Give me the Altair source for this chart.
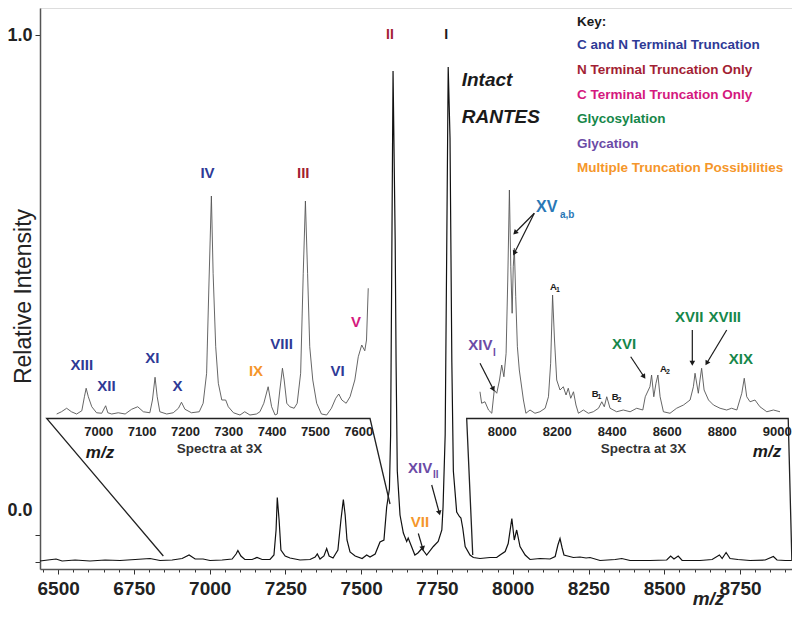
import altair as alt
import pandas as pd

FONT = "Liberation Sans"
BLUE = "#2E3A96"
RED = "#A31F34"
MAGENTA = "#D4197E"
GREEN = "#16874A"
PURPLE = "#6B4BA6"
ORANGE = "#F5962A"
TEAL = "#2A78B6"
INK = "#1a1a1a"

# ---------------- main spectrum ----------------
main_mz = [6440, 6466, 6493, 6513, 6556, 6605, 6655, 6704, 6754, 6803,
           6836, 6876, 6909, 6932, 6952, 6978, 7001, 7041, 7074, 7087,
           7093, 7103, 7116, 7140, 7156, 7173, 7199, 7212, 7219, 7223,
           7229, 7235, 7249, 7265, 7298, 7331, 7348, 7355, 7364, 7377,
           7386, 7394, 7407, 7423, 7433, 7441, 7447, 7453, 7463, 7480,
           7503, 7518, 7529, 7546, 7562, 7575, 7584, 7593, 7597, 7601,
           7605, 7612, 7615, 7619, 7628, 7639, 7650, 7655, 7664, 7677,
           7687, 7700, 7716, 7738, 7754, 7766, 7770, 7777, 7782, 7787,
           7793, 7799, 7804, 7815, 7824, 7829, 7835, 7843, 7859, 7870,
           7892, 7925, 7947, 7958, 7975, 7985, 7997, 8005, 8013, 8024,
           8041, 8057, 8090, 8123, 8140, 8149, 8156, 8163, 8169, 8200,
           8222, 8242, 8255, 8288, 8338, 8360, 8387, 8453, 8508, 8521,
           8532, 8546, 8559, 8618, 8658, 8682, 8691, 8704, 8717, 8743,
           8783, 8833, 8860, 8872, 8899, 8921]
main_int = [-0.052, -0.050, -0.048, -0.052, -0.050, -0.052, -0.050, -0.051, -0.049, -0.047,
            -0.051, -0.050, -0.047, -0.040, -0.048, -0.048, -0.051, -0.050, -0.048, -0.038,
            -0.031, -0.042, -0.049, -0.049, -0.045, -0.049, -0.049, -0.040, 0.010, 0.075,
            0.030, -0.030, -0.042, -0.046, -0.050, -0.049, -0.044, -0.038, -0.048, -0.042,
            -0.027, -0.042, -0.046, -0.030, 0.030, 0.071, 0.040, -0.010, -0.034, -0.042,
            -0.047, -0.040, -0.044, -0.038, -0.014, -0.010, 0.056, 0.092, 0.200, 0.562,
            0.928, 0.592, 0.346, 0.128, 0.040, 0.004, -0.013, -0.006, -0.020, -0.040,
            -0.036, -0.027, -0.040, -0.023, -0.013, 0.010, 0.056, 0.200, 0.562, 0.936,
            0.794, 0.346, 0.128, 0.046, 0.037, 0.034, 0.014, -0.023, -0.040, -0.045,
            -0.047, -0.045, -0.045, -0.040, -0.033, -0.017, 0.033, -0.010, 0.010, -0.023,
            -0.040, -0.049, -0.047, -0.048, -0.043, -0.020, -0.007, -0.026, -0.040, -0.045,
            -0.044, -0.046, -0.045, -0.051, -0.049, -0.047, -0.051, -0.051, -0.050, -0.042,
            -0.048, -0.042, -0.051, -0.051, -0.049, -0.040, -0.047, -0.035, -0.047, -0.049,
            -0.051, -0.050, -0.043, -0.050, -0.051, -0.051]

# ---------------- left inset (3X) ----------------
left_mz = [6904, 6915, 6927, 6938, 6950, 6962, 6968, 6972, 6977, 6985,
           6996, 7008, 7017, 7022, 7031, 7046, 7062, 7077, 7091, 7104,
           7119, 7125, 7131, 7136, 7142, 7158, 7173, 7185, 7192, 7200,
           7215, 7233, 7242, 7250, 7255, 7261, 7265, 7271, 7277, 7285,
           7294, 7300, 7312, 7327, 7338, 7350, 7365, 7373, 7382, 7392,
           7400, 7408, 7413, 7419, 7425, 7429, 7435, 7442, 7452, 7459,
           7467, 7473, 7478, 7483, 7488, 7495, 7504, 7515, 7527, 7538,
           7548, 7555, 7562, 7572, 7581, 7592, 7600, 7608, 7615, 7619, 7623]
left_int = [0.016, 0.025, 0.039, 0.025, 0.016, 0.029, 0.085, 0.119, 0.085, 0.045,
            0.021, 0.019, 0.049, 0.021, 0.016, 0.021, 0.016, 0.035, 0.045, 0.025,
            0.021, 0.072, 0.163, 0.085, 0.025, 0.016, 0.021, 0.039, 0.063, 0.035,
            0.021, 0.025, 0.059, 0.179, 0.512, 0.888, 0.579, 0.285, 0.139, 0.072,
            0.072, 0.045, 0.021, 0.012, 0.025, 0.012, 0.016, 0.025, 0.059, 0.125,
            0.045, 0.012, 0.016, 0.112, 0.199, 0.152, 0.059, 0.045, 0.039, 0.059,
            0.179, 0.579, 0.868, 0.579, 0.285, 0.152, 0.059, 0.016, 0.012, 0.039,
            0.079, 0.096, 0.072, 0.059, 0.085, 0.152, 0.245, 0.292, 0.269, 0.312, 0.519]

# ---------------- right inset (3X) ----------------
right_mz = [7921, 7927, 7939, 7952, 7964, 7973, 7982, 7992, 8000, 8008,
            8016, 8022, 8028, 8033, 8038, 8042, 8046, 8051, 8057, 8064,
            8069, 8079, 8088, 8103, 8121, 8139, 8158, 8170, 8178, 8185,
            8192, 8200, 8212, 8224, 8234, 8242, 8251, 8261, 8270, 8279,
            8297, 8315, 8333, 8352, 8364, 8373, 8382, 8394, 8418, 8442,
            8467, 8491, 8513, 8522, 8539, 8545, 8553, 8561, 8568, 8576,
            8588, 8612, 8636, 8661, 8685, 8697, 8703, 8715, 8721, 8727,
            8736, 8752, 8770, 8794, 8818, 8836, 8855, 8873, 8882, 8891,
            8903, 8921, 8939, 8964, 8988, 9012]
right_int = [0.105, 0.059, 0.065, 0.032, 0.019, 0.112, 0.099, 0.152, 0.212, 0.165,
             0.259, 0.552, 0.912, 0.605, 0.419, 0.605, 0.679, 0.485, 0.285, 0.192,
             0.152, 0.072, 0.019, 0.032, 0.019, 0.025, 0.039, 0.085, 0.219, 0.492,
             0.312, 0.152, 0.112, 0.125, 0.092, 0.119, 0.079, 0.105, 0.052, 0.019,
             0.032, 0.019, 0.025, 0.039, 0.065, 0.045, 0.085, 0.039, 0.025, 0.032,
             0.025, 0.039, 0.032, 0.085, 0.125, 0.172, 0.085, 0.139, 0.172, 0.085,
             0.025, 0.019, 0.039, 0.052, 0.072, 0.125, 0.179, 0.099, 0.152, 0.199,
             0.112, 0.072, 0.052, 0.039, 0.032, 0.039, 0.032, 0.099, 0.159, 0.085,
             0.065, 0.072, 0.045, 0.025, 0.032, 0.025]

# ---------------- connectors (inset boxes) in main coordinates ----------------
conn_mz = [6847, 6462, 7529, 7595, 7868, 7848, 8909, 8921]
conn_val = [-0.042, 0.233, 0.233, 0.062, -0.040, 0.233, 0.233, -0.050]
conn_path = ["L", "L", "L", "L", "R", "R", "R", "R"]

# ---------------- labels ----------------
left_lab_text = ["XIII", "XII", "XI", "X", "IV", "IX", "VIII", "III", "VI", "V"]
left_lab_mz = [6962, 7019, 7125, 7183, 7252, 7364, 7423, 7473, 7552, 7595]
left_lab_val = [0.212, 0.129, 0.239, 0.129, 0.979, 0.189, 0.296, 0.979, 0.189, 0.385]
left_lab_color = [BLUE, BLUE, BLUE, BLUE, BLUE, ORANGE, BLUE, RED, BLUE, MAGENTA]

right_c_text = ["XVI", "XVII", "XVIII", "XIX"]
right_c_mz = [8444.7, 8681.8, 8810.9, 8869.5]
right_c_val = [0.296, 0.403, 0.403, 0.235]

right_l_text = ["XV", "a,b", "XIV", "I", "A", "1", "A", "2", "B", "1", "B", "2"]
right_l_mz = [8124.7, 8212.0, 7878.5, 7968.4, 8175.6, 8197.5, 8575.6, 8597.5, 8327.3, 8348.4, 8400.0, 8421.1]
right_l_val = [0.844, 0.812, 0.292, 0.262, 0.523, 0.512, 0.195, 0.184, 0.095, 0.084, 0.085, 0.074]
right_l_color = [TEAL, TEAL, PURPLE, PURPLE, INK, INK, INK, INK, INK, INK, INK, INK]
right_l_size = [16, 10, 15, 10, 9.5, 7, 9.5, 7, 9.5, 7, 9.5, 7]

right_arrow_mz = [8118.5, 8118.5, 7921.1, 8469.1, 8693.1, 8818.2]
right_arrow_val = [0.819, 0.819, 0.219, 0.245, 0.352, 0.352]
right_arrow_mz2 = [8048.4, 8045.8, 7969.5, 8517.5, 8693.1, 8745.5]
right_arrow_val2 = [0.741, 0.659, 0.115, 0.165, 0.219, 0.219]
right_arrow_ang = [225, 207, 153, 146, 180, 211]

main_c_text = ["II", "I", "VII"]
main_c_mz = [7595, 7780, 7694]
main_c_val = [1.0, 1.0, 0.027]
main_c_color = [RED, INK, ORANGE]
main_c_size = [14, 14, 15]

key_text = ["Key:", "C and N Terminal Truncation", "N Terminal Truncation Only",
            "C Terminal Truncation Only", "Glycosylation", "Glycation",
            "Multiple Truncation Possibilities"]
key_color = [INK, BLUE, RED, MAGENTA, GREEN, PURPLE, ORANGE]
key_val = [1.027, 0.980, 0.930, 0.880, 0.832, 0.782, 0.734]

main_l_text = ["XIV", "II"] + key_text
main_l_mz = [7654.4, 7736.9] + [8212.1] * len(key_text)
main_l_val = [0.134, 0.120] + key_val
main_l_color = [PURPLE, PURPLE] + key_color
main_l_size = [15, 10] + [13.5] * len(key_text)

intact_text = ["Intact", "RANTES"]
intact_mz = [7831.6, 7831.6]
intact_val = [0.910, 0.836]

mz_note_text = ["m/z", "m/z"]
mz_note_mz = [6638, 8839]
mz_note_val = [0.165, 0.167]

main_arrow_mz = [7732.6, 7688.4]
main_arrow_val = [0.100, 0.003]
main_arrow_mz2 = [7757.7, 7702.9]
main_arrow_val2 = [0.044, -0.027]
main_arrow_ang = [165, 168]

# ---------------- scales & axes ----------------
main_xs = alt.Scale(domain=[6440, 8921.5], nice=False, zero=False)
main_ys = alt.Scale(domain=[-0.068, 1.054], nice=False, zero=False)
left_xs = alt.Scale(domain=[6865.5, 8600.9], nice=False, zero=False)
right_xs = alt.Scale(domain=[6321.1, 9055.6], nice=False, zero=False)
inset_ys = alt.Scale(domain=[-0.604, 1.64], nice=False, zero=False)

main_xa = alt.Axis(
    orient="bottom", values=list(range(6450, 8901, 50)), format="d",
    labelExpr="datum.value % 250 === 0 ? datum.label : ''",
    tickSize={"condition": {"test": "datum.value % 250 === 0", "value": 5}, "value": 3},
    tickColor="#333", labelFont=FONT, labelFontSize=19, labelFontWeight="bold",
    labelColor="#222", labelPadding=5, labelOverlap=False, labelFlush=False, grid=False,
    domainColor="#555", domainWidth=1.5,
    title="m/z", titleFont=FONT, titleFontSize=19, titleFontWeight="bold",
    titleFontStyle="italic", titleColor="#222", titleX=668, titleY=29,
    titleBaseline="middle", titleAlign="center",
)
main_ya = alt.Axis(
    values=[-0.054, 0, 1],
    labelExpr="datum.value === 1 ? '1.0' : (datum.value === 0 ? '0.0' : '')",
    labelOffset={"condition": {"test": "datum.value === 0", "value": -25}, "value": 0},
    tickSize=5, tickColor="#333", labelFont=FONT, labelFontSize=18, labelFontWeight="bold",
    labelColor="#222", labelPadding=3, grid=False, domainColor="#555", domainWidth=1.5,
    title="Relative Intensity", titleFont=FONT, titleFontSize=23, titleFontWeight="normal",
    titleColor="#222", titleX=-17, titleY=288, titleAngle=270, titleAlign="center",
    titleBaseline="middle",
)


def inset_axis(vals, title_x):
    return alt.Axis(
        orient="bottom", values=vals, format="d", offset=-151, domain=False, ticks=False,
        tickSize=0, labelFont=FONT, labelFontSize=13, labelFontWeight="bold",
        labelColor="#222", labelPadding=7, labelFlush=False, labelOverlap=False, grid=False,
        title="Spectra at 3X", titleFont=FONT, titleFontSize=13.5, titleFontWeight="bold",
        titleColor="#333", titleX=title_x, titleY=30, titleBaseline="middle", titleAlign="center",
    )


left_xa = inset_axis(list(range(7000, 7601, 100)), 179)
right_xa = inset_axis(list(range(8000, 9001, 200)), 603)


def enc(xf, yf, xs, ys, xa, ya):
    return dict(x=alt.X(xf, scale=xs, axis=xa), y=alt.Y(yf, scale=ys, axis=ya))


def text_layer(texts, xs_, ys_, colors, sizes, xs, ys, xa, ya, align="center", style="normal"):
    df = pd.DataFrame({"mz": xs_, "val": ys_, "label": texts, "color": colors, "fs": sizes})
    return alt.Chart(df).mark_text(
        align=align, baseline="middle", font=FONT, fontWeight="bold", fontStyle=style
    ).encode(
        **enc("mz:Q", "val:Q", xs, ys, xa, ya),
        text="label:N",
        color=alt.Color("color:N", scale=None),
        size=alt.Size("fs:Q", scale=None),
    )


def arrow_layers(mz, val, mz2, val2, ang, xs, ys, xa, ya):
    df = pd.DataFrame({"mz": mz, "val": val, "mz2": mz2, "val2": val2, "ang": ang})
    rules = alt.Chart(df).mark_rule(color=INK, strokeWidth=1.2).encode(
        **enc("mz:Q", "val:Q", xs, ys, xa, ya), x2="mz2:Q", y2="val2:Q"
    )
    heads = alt.Chart(df).mark_point(
        shape="triangle-up", filled=True, size=32, color=INK, opacity=1
    ).encode(**enc("mz2:Q", "val2:Q", xs, ys, xa, ya), angle=alt.Angle("ang:Q", scale=None))
    return [rules, heads]


# ---------------- main layer ----------------
main_spec = alt.Chart(pd.DataFrame({"mz": main_mz, "val": main_int})).mark_line(
    color="#111", strokeWidth=1.2
).encode(**enc("mz:Q", "val:Q", main_xs, main_ys, main_xa, main_ya))

conn = alt.Chart(pd.DataFrame({"mz": conn_mz, "val": conn_val, "path": conn_path,
                               "ord": list(range(len(conn_mz)))})).mark_line(
    color="#222", strokeWidth=1.3
).encode(**enc("mz:Q", "val:Q", main_xs, main_ys, main_xa, main_ya),
         detail="path:N", order="ord:Q")

main_layers = [main_spec, conn]
main_layers += arrow_layers(main_arrow_mz, main_arrow_val, main_arrow_mz2, main_arrow_val2,
                            main_arrow_ang, main_xs, main_ys, main_xa, main_ya)
main_layers.append(text_layer(main_c_text, main_c_mz, main_c_val, main_c_color, main_c_size,
                              main_xs, main_ys, main_xa, main_ya, align="center"))
main_layers.append(text_layer(main_l_text, main_l_mz, main_l_val, main_l_color, main_l_size,
                              main_xs, main_ys, main_xa, main_ya, align="left"))
main_layers.append(text_layer(intact_text, intact_mz, intact_val, [INK, INK], [19, 19],
                              main_xs, main_ys, main_xa, main_ya, align="left", style="italic"))
main_layers.append(text_layer(mz_note_text, mz_note_mz, mz_note_val, [INK, INK], [17, 17],
                              main_xs, main_ys, main_xa, main_ya, align="center", style="italic"))
main = alt.layer(*main_layers)

# ---------------- left inset ----------------
left_spec = alt.Chart(pd.DataFrame({"mz": left_mz, "val": left_int})).mark_line(
    color="#555", strokeWidth=0.9
).encode(**enc("mz:Q", "val:Q", left_xs, inset_ys, left_xa, None))
left_labels = text_layer(left_lab_text, left_lab_mz, left_lab_val, left_lab_color,
                         [15] * len(left_lab_text), left_xs, inset_ys, left_xa, None)
left = alt.layer(left_spec, left_labels)

# ---------------- right inset ----------------
right_spec = alt.Chart(pd.DataFrame({"mz": right_mz, "val": right_int})).mark_line(
    color="#555", strokeWidth=0.9
).encode(**enc("mz:Q", "val:Q", right_xs, inset_ys, right_xa, None))
right_layers = [right_spec]
right_layers += arrow_layers(right_arrow_mz, right_arrow_val, right_arrow_mz2, right_arrow_val2,
                             right_arrow_ang, right_xs, inset_ys, right_xa, None)
right_layers.append(text_layer(right_c_text, right_c_mz, right_c_val, [GREEN] * 4, [15] * 4,
                               right_xs, inset_ys, right_xa, None, align="center"))
right_layers.append(text_layer(right_l_text, right_l_mz, right_l_val, right_l_color, right_l_size,
                               right_xs, inset_ys, right_xa, None, align="left"))
right = alt.layer(*right_layers)

chart = alt.layer(main, left, right).resolve_scale(
    x="independent", y="independent"
).properties(
    width=752, height=561,
    autosize=alt.AutoSizeParams(type="none"),
    padding={"left": 32, "top": 0, "right": 0, "bottom": 40},
).configure_view(stroke="#666", strokeWidth=1.5).configure(font=FONT)

chart.save("out.html", embed_options={"renderer": "svg", "actions": False})
